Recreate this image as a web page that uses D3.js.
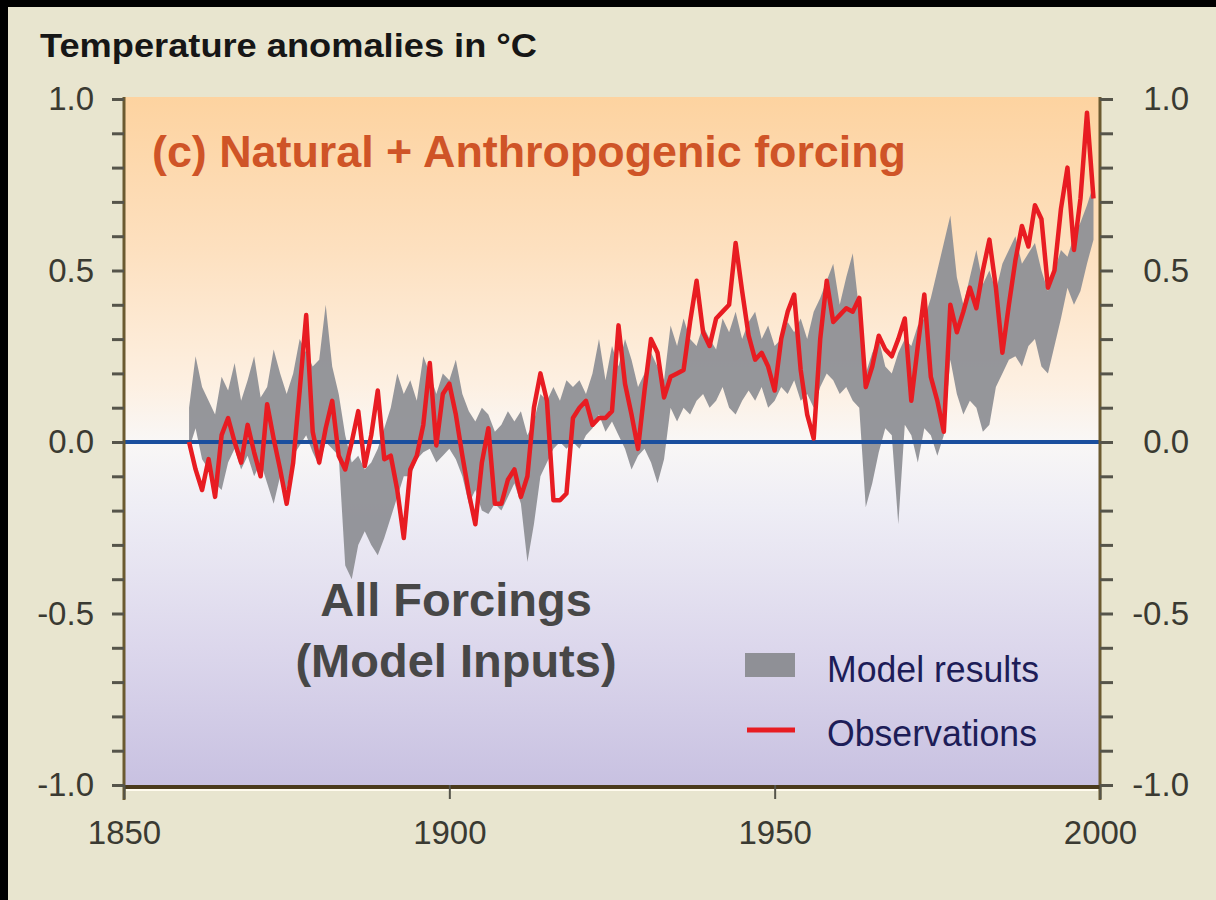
<!DOCTYPE html>
<html>
<head>
<meta charset="utf-8">
<script src="https://cdn.jsdelivr.net/npm/d3@7"></script>
<style>
  body { margin: 0; background: #000; }
  svg { display: block; }
  text { font-family: 'Liberation Sans', Arial, sans-serif; }
</style>
</head>
<body>
<svg width="1216" height="900"></svg>
<script>
// annual values, one per year from startYear
const startYear = 1860;
const observations = [
   0.00,-0.08,-0.14,-0.05,-0.16, 0.02, 0.07, 0.00,-0.06, 0.05,
  -0.03,-0.10, 0.11, 0.01,-0.08,-0.18,-0.06, 0.15, 0.37, 0.03,
  -0.06, 0.04, 0.12,-0.04,-0.08, 0.00, 0.09,-0.07, 0.02, 0.15,
  -0.05,-0.04,-0.14,-0.28,-0.08,-0.04, 0.05, 0.23,-0.01, 0.14,
   0.17, 0.08,-0.04,-0.15,-0.24,-0.06, 0.04,-0.18,-0.18,-0.11,
  -0.08,-0.16,-0.10, 0.10, 0.20, 0.12,-0.17,-0.17,-0.15, 0.07,
   0.10, 0.12, 0.05, 0.07, 0.07, 0.09, 0.34, 0.17, 0.08,-0.02,
   0.15, 0.30, 0.26, 0.13, 0.19, 0.20, 0.21, 0.35, 0.47, 0.32,
   0.28, 0.36, 0.38, 0.40, 0.58, 0.44, 0.31, 0.24, 0.26, 0.22,
   0.15, 0.30, 0.38, 0.43, 0.21, 0.08, 0.01, 0.30, 0.47, 0.35,
   0.37, 0.39, 0.38, 0.42, 0.16, 0.22, 0.31, 0.27, 0.25, 0.30,
   0.36, 0.12, 0.28, 0.43, 0.19, 0.12, 0.03, 0.40, 0.32, 0.38,
   0.45, 0.39, 0.50, 0.59, 0.45, 0.26, 0.40, 0.53, 0.63, 0.57,
   0.69, 0.65, 0.45, 0.50, 0.68, 0.80, 0.56, 0.71, 0.96, 0.71
];
const modelHigh = [
   0.10, 0.25, 0.16, 0.12, 0.08, 0.19, 0.15, 0.23, 0.12, 0.18,
   0.25, 0.13, 0.16, 0.27, 0.20, 0.14, 0.20, 0.30, 0.26, 0.22,
   0.24, 0.40, 0.22, 0.14, 0.02,-0.06,-0.04,-0.08,-0.06,-0.02,
   0.04, 0.10, 0.20, 0.14, 0.18, 0.12, 0.25, 0.20, 0.14, 0.20,
   0.18, 0.24, 0.14, 0.09, 0.06, 0.10, 0.08, 0.03, 0.05, 0.09,
   0.06, 0.09, 0.02, 0.06, 0.14, 0.12, 0.16, 0.12, 0.18, 0.16,
   0.18, 0.14, 0.20, 0.30, 0.18, 0.28, 0.22, 0.30, 0.24, 0.16,
   0.20, 0.26, 0.22, 0.18, 0.34, 0.28, 0.36, 0.30, 0.28, 0.34,
   0.30, 0.27, 0.36, 0.32, 0.38, 0.30, 0.35, 0.38, 0.30, 0.34,
   0.28, 0.30, 0.35, 0.32, 0.36, 0.30, 0.38, 0.42, 0.47, 0.52,
   0.40, 0.48, 0.55, 0.38, 0.20, 0.26, 0.30, 0.22, 0.20, 0.26,
   0.30, 0.28, 0.34, 0.36, 0.42, 0.50, 0.58, 0.66, 0.48, 0.40,
   0.48, 0.56, 0.46, 0.50, 0.44, 0.52, 0.56, 0.60, 0.52, 0.55,
   0.58, 0.50, 0.44, 0.50, 0.56, 0.54, 0.60, 0.64, 0.69, 0.75
];
const modelLow = [
  -0.02, 0.04,-0.05,-0.08,-0.12,-0.14,-0.06,-0.02,-0.08,-0.04,
  -0.10,-0.06,-0.12,-0.18,-0.10,-0.14,-0.04,-0.01, 0.02,-0.03,
  -0.07, 0.00,-0.02,-0.04,-0.36,-0.40,-0.30,-0.26,-0.30,-0.33,
  -0.28,-0.22,-0.16,-0.10,-0.10,-0.05,-0.03,-0.02,-0.06,-0.04,
  -0.02,-0.05,-0.10,-0.18,-0.14,-0.20,-0.21,-0.18,-0.20,-0.16,
  -0.12,-0.18,-0.35,-0.24,-0.10,-0.06,-0.02, 0.00,-0.02, 0.00,
  -0.02, 0.02, 0.04, 0.08, 0.03, 0.06, 0.02,-0.02,-0.08,-0.04,
  -0.02,-0.06,-0.12,-0.05, 0.10, 0.06, 0.10, 0.08, 0.12, 0.14,
   0.10, 0.12, 0.16, 0.10, 0.08, 0.12, 0.15, 0.12, 0.16, 0.10,
   0.12, 0.16, 0.14, 0.18, 0.12, 0.14, 0.10, 0.16, 0.20, 0.18,
   0.14, 0.16, 0.12, 0.10,-0.19,-0.12,-0.03, 0.04, 0.02,-0.24,
   0.05, 0.02,-0.06, 0.04, 0.02,-0.04, 0.02, 0.24, 0.14, 0.08,
   0.12, 0.10, 0.03, 0.05, 0.16, 0.20, 0.24, 0.25, 0.22, 0.28,
   0.30, 0.22, 0.20, 0.28, 0.36, 0.45, 0.40, 0.44, 0.52, 0.59
];
const yearTicks = [1850, 1900, 1950, 2000];
const valueTicks = [-1, -0.5, 0, 0.5, 1];
const minorTicks = [-1,-0.9,-0.8,-0.7,-0.6,-0.5,-0.4,-0.3,-0.2,-0.1,0,0.1,0.2,0.3,0.4,0.5,0.6,0.7,0.8,0.9,1];
const legendItems = ['Model results', 'Observations'];

const svg = d3.select('svg');
const x = d3.scaleLinear().domain([1850, 2000]).range([124, 1100]);
const y = d3.scaleLinear().domain([-1, 1]).range([785, 99]);

const rows = observations.map((d, i) => ({
  year: startYear + i, obs: d, lo: modelLow[i], hi: modelHigh[i]
}));

// page background with black frame on top/left
svg.append('rect').attr('width', 1216).attr('height', 900).attr('fill', '#000');
svg.append('rect').attr('x', 8).attr('y', 7).attr('width', 1208).attr('height', 893).attr('fill', '#e8e5cf');

// plot gradient
const defs = svg.append('defs');
const grad = defs.append('linearGradient').attr('id', 'plotBg')
  .attr('x1', 0).attr('y1', 0).attr('x2', 0).attr('y2', 1);
[['0%', '#fdd3a0'], ['22%', '#fde0bf'], ['42%', '#fdf0e2'], ['50%', '#f9f7f6'],
 ['60%', '#eeedf5'], ['80%', '#dcd7ec'], ['100%', '#c8c1e1']]
  .forEach(([o, c]) => grad.append('stop').attr('offset', o).attr('stop-color', c));

svg.append('rect')
  .attr('x', x(1850)).attr('y', y(1) - 2)
  .attr('width', x(2000) - x(1850)).attr('height', y(-1) - y(1) + 2)
  .attr('fill', 'url(#plotBg)');

// title
svg.append('text').attr('x', 40).attr('y', 57)
  .attr('font-size', 34).attr('font-weight', 'bold').attr('fill', '#161616')
  .attr('textLength', 497).attr('lengthAdjust', 'spacingAndGlyphs')
  .text('Temperature anomalies in °C');

svg.append('text').attr('x', 152).attr('y', 167)
  .attr('font-size', 45).attr('font-weight', 'bold').attr('fill', '#cf5427')
  .attr('textLength', 754).attr('lengthAdjust', 'spacingAndGlyphs')
  .text('(c) Natural + Anthropogenic forcing');

// model band and observations
const area = d3.area().x(d => x(d.year)).y0(d => y(d.lo)).y1(d => y(d.hi));
svg.append('path').datum(rows).attr('d', area).attr('fill', '#8f9096').attr('opacity', 0.95);

// zero line
svg.append('line').attr('x1', x(1850)).attr('x2', x(2000))
  .attr('y1', y(0)).attr('y2', y(0))
  .attr('stroke', '#1b4f9e').attr('stroke-width', 4);

const line = d3.line().x(d => x(d.year)).y(d => y(d.obs));
svg.append('path').datum(rows).attr('d', line)
  .attr('fill', 'none').attr('stroke', '#e81c22').attr('stroke-width', 4.5)
  .attr('stroke-linejoin', 'round');

// axes frame
svg.append('line').attr('x1', x(1850)).attr('x2', x(1850)).attr('y1', y(1) - 2).attr('y2', 800)
  .attr('stroke', '#6b5a30').attr('stroke-width', 3);
svg.append('line').attr('x1', x(2000)).attr('x2', x(2000)).attr('y1', y(1) - 2).attr('y2', 800)
  .attr('stroke', '#6b5a30').attr('stroke-width', 3);
svg.append('line').attr('x1', x(1850)).attr('x2', x(2000)).attr('y1', y(-1) + 2).attr('y2', y(-1) + 2)
  .attr('stroke', '#4a3a1c').attr('stroke-width', 4);
svg.append('line').attr('x1', x(1850) + 2).attr('x2', x(2000) - 2).attr('y1', y(-1) + 5).attr('y2', y(-1) + 5)
  .attr('stroke', '#fffbee').attr('stroke-width', 2);

const fmt = d => d.toFixed(1);

// minor ticks both sides
const leftMinor = svg.append('g').attr('transform', `translate(${x(1850)},0)`)
  .call(d3.axisLeft(y).tickValues(minorTicks).tickSize(12).tickFormat(''));
const rightMinor = svg.append('g').attr('transform', `translate(${x(2000)},0)`)
  .call(d3.axisRight(y).tickValues(minorTicks).tickSize(13).tickFormat(''));
[leftMinor, rightMinor].forEach(g => {
  g.select('.domain').remove();
  g.selectAll('.tick line').attr('stroke', '#55544a').attr('stroke-width', 3);
});

// value labels
const leftLab = svg.append('g').attr('transform', `translate(${x(1850)},0)`)
  .call(d3.axisLeft(y).tickValues(valueTicks).tickSize(0).tickPadding(30).tickFormat(fmt));
const rightLab = svg.append('g').attr('transform', `translate(${x(2000)},0)`)
  .call(d3.axisRight(y).tickValues(valueTicks).tickSize(0).tickPadding(89).tickFormat(fmt));
rightLab.selectAll('text').attr('text-anchor', 'end');
[leftLab, rightLab].forEach(g => {
  g.select('.domain').remove();
  g.selectAll('text').attr('font-size', 33).attr('fill', '#3a3a32')
    .attr('font-family', "'Liberation Sans', Arial, sans-serif");
});

// year axis
const bottom = svg.append('g').attr('transform', `translate(0,${y(-1)})`)
  .call(d3.axisBottom(x).tickValues(yearTicks).tickSize(14).tickPadding(22).tickFormat(d3.format('d')));
bottom.select('.domain').remove();
bottom.selectAll('.tick line').attr('stroke', '#55544a').attr('stroke-width', 2);
bottom.selectAll('text').attr('font-size', 33).attr('fill', '#3a3a32')
  .attr('font-family', "'Liberation Sans', Arial, sans-serif");

// inline annotation
svg.append('text').attr('x', 456).attr('y', 616).attr('text-anchor', 'middle')
  .attr('font-size', 47).attr('font-weight', 'bold').attr('fill', '#474747')
  .text('All Forcings');
svg.append('text').attr('x', 456).attr('y', 677).attr('text-anchor', 'middle')
  .attr('font-size', 47).attr('font-weight', 'bold').attr('fill', '#474747')
  .text('(Model Inputs)');

// legend
const legend = svg.append('g').attr('transform', 'translate(745,0)');
legend.append('rect').attr('x', 0).attr('y', 653).attr('width', 50).attr('height', 24).attr('fill', '#8f9096');
legend.append('line').attr('x1', 2).attr('x2', 50).attr('y1', 730).attr('y2', 730)
  .attr('stroke', '#e81c22').attr('stroke-width', 5);
legend.selectAll('text.leg').data(legendItems).enter().append('text').attr('class', 'leg')
  .attr('x', 82).attr('y', (d, i) => 682 + i * 64)
  .attr('font-size', 37).attr('fill', '#1d1d58')
  .attr('textLength', (d, i) => i === 0 ? 212 : 210).attr('lengthAdjust', 'spacingAndGlyphs')
  .text(d => d);
</script>
</body>
</html>
